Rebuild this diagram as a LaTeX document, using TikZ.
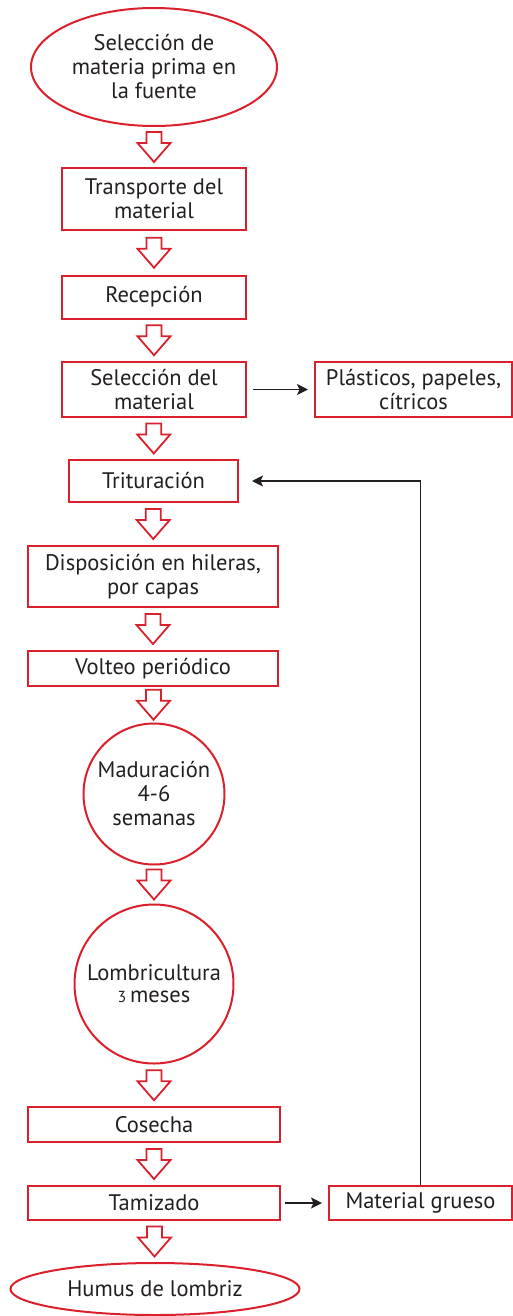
\documentclass[tikz,border=0pt]{standalone}
\usepackage{fontspec}
\setmainfont{PT Sans}
\usetikzlibrary{shapes.geometric,arrows.meta,calc}
\definecolor{boxred}{RGB}{218,32,44}
\definecolor{ink}{RGB}{35,31,32}
\tikzset{
  flowbox/.style={draw=boxred,line width=2pt,rectangle,inner sep=0pt,align=center,text=ink,font=\fontsize{22.5}{24}\selectfont},
  flowell/.style={draw=boxred,line width=2pt,ellipse,inner sep=0pt,align=center,text=ink,font=\fontsize{22.5}{24}\selectfont},
  flowcirc/.style={draw=boxred,line width=2pt,circle,inner sep=0pt,align=center,text=ink,font=\fontsize{22.5}{24}\selectfont},
  sidearrow/.style={draw=ink,line width=1.8pt,-{Stealth[length=11pt,width=11pt,inset=2.5pt]}},
  bigarrow/.pic={\draw[boxred,line width=1.8pt,line join=miter,fill=white]
     (-7.5,-15)--(7.5,-15)--(7.5,-4)--(16.5,-4)--(0,15)--(-16.5,-4)--(-7.5,-4)--cycle;}
}
\begin{document}
\begin{tikzpicture}[x=1pt,y=-1pt]
\useasboundingbox (0,0) rectangle (513,1316);
\node[flowell,minimum width=246pt,minimum height=118pt] (sel) at (154,67) {Selección de\\materia prima en\\la fuente};
\node[flowbox,minimum width=184pt,minimum height=62pt] (trans) at (154,199) {Transporte del\\material};
\node[flowbox,minimum width=184pt,minimum height=43pt] (rec) at (154,297) {Recepción};
\node[flowbox,minimum width=184pt,minimum height=55pt] (selm) at (154,389.5) {Selección del\\material};
\node[flowbox,minimum width=197pt,minimum height=55pt] (plas) at (413.5,389.5) {Plásticos, papeles,\\cítricos};
\node[flowbox,minimum width=169pt,minimum height=42pt] (trit) at (153.5,481) {Trituración};
\node[flowbox,minimum width=250pt,minimum height=61pt] (disp) at (153,576.5) {Disposición en hileras,\\por capas};
\node[flowbox,minimum width=250pt,minimum height=35pt] (volt) at (153,668.5) {Volteo periódico};
\node[flowcirc,minimum size=141pt] (mad) at (154,794) {Maduración\\4-6\\semanas};
\node[flowcirc,minimum size=159pt] (lomb) at (154,984) {Lombricultura\\[-2pt]{\fontsize{16}{18}\selectfont 3}\,meses};
\node[flowbox,minimum width=252pt,minimum height=35pt] (cos) at (154,1124.5) {Cosecha};
\node[flowbox,minimum width=252pt,minimum height=34pt] (tam) at (154,1203) {Tamizado};
\node[flowbox,minimum width=183pt,minimum height=34pt] (mat) at (420.5,1203) {Material grueso};
\node[flowell,minimum width=289pt,minimum height=52pt] (hum) at (155,1289) {Humus de lombriz};
\foreach \a/\b in {sel/trans,trans/rec,rec/selm,selm/trit,trit/disp,disp/volt,volt/mad,mad/lomb,lomb/cos,cos/tam,tam/hum}
  \pic at ($(\a.south)!0.5!(\b.north)$) {bigarrow};
\draw[sidearrow] ($(selm.east)+(6,0)$) -- ($(plas.west)+(-6,0)$);
\draw[sidearrow] ($(tam.east)+(4,0)$) -- ($(mat.west)+(-6,0)$);
\draw[sidearrow] (mat.north) -- (mat.north |- trit.east) -- ($(trit.east)+(13,0)$);
\end{tikzpicture}
\end{document}
